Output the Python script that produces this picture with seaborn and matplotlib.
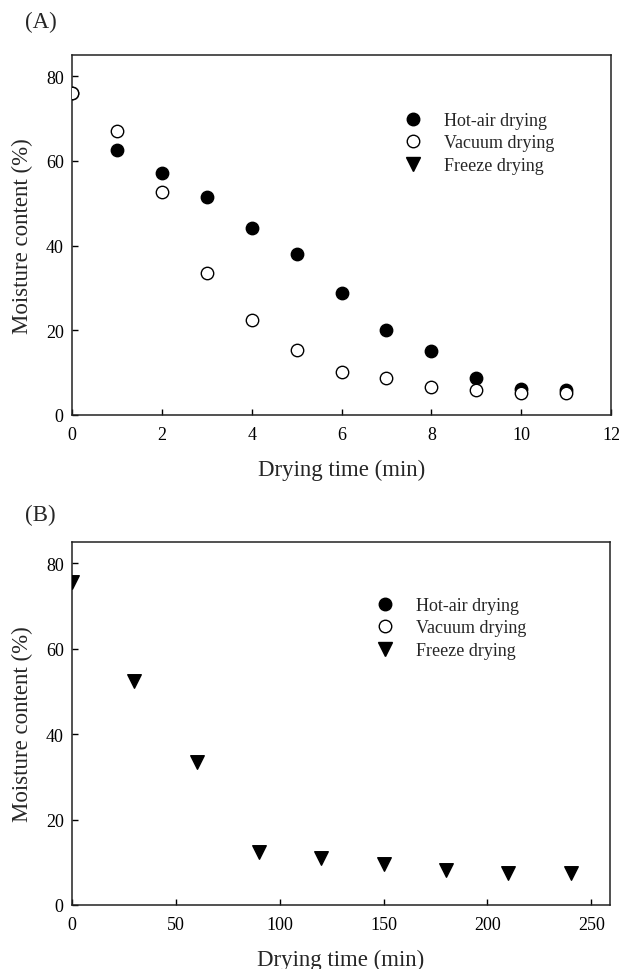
import matplotlib
matplotlib.use("Agg")
import matplotlib.pyplot as plt
from matplotlib.lines import Line2D
import seaborn as sns
import pandas as pd

sns.set_theme(style="white")
plt.rcParams['font.family'] = ['Liberation Serif', 'DejaVu Serif']

# Panel A data (min)
time_a = [0, 1, 2, 3, 4, 5, 6, 7, 8, 9, 10, 11]
hot_air = [76.1, 62.5, 57.2, 51.5, 44.2, 38.0, 28.9, 20.0, 15.0, 8.7, 6.1, 6.0]
vacuum = [76.1, 67.0, 52.7, 33.5, 22.4, 15.3, 10.2, 8.7, 6.5, 5.9, 5.3, 5.3]

# Panel B data (min)
time_b = [0, 30, 60, 90, 120, 150, 180, 210, 240]
freeze = [75.6, 52.5, 33.6, 12.5, 11.1, 9.7, 8.2, 7.6, 7.6]

series_names = ["Hot-air drying", "Vacuum drying", "Freeze drying"]
xticks_a = [0, 2, 4, 6, 8, 10, 12]
xticks_b = [0, 50, 100, 150, 200, 250]
yticks = [0, 20, 40, 60, 80]

fig = plt.figure(figsize=(6.19, 9.70), dpi=100)
axA = fig.add_axes([72/619, 1-416/970, (611-72)/619, (416-56)/970])
axB = fig.add_axes([72/619, 1-906/970, (610-72)/619, (906-543)/970])

dfA = pd.DataFrame({"t": time_a, "hot": hot_air, "vac": vacuum})
dfB = pd.DataFrame({"t": time_b, "fr": freeze})

msize = 80
sns.scatterplot(data=dfA, x="t", y="hot", ax=axA, marker="o", color="black",
                edgecolor="black", s=msize, linewidth=1, zorder=3)
sns.scatterplot(data=dfA, x="t", y="vac", ax=axA, marker="o", color="white",
                edgecolor="black", s=msize, linewidth=1, zorder=4)
sns.scatterplot(data=dfB, x="t", y="fr", ax=axB, marker="v", color="black",
                edgecolor="black", s=95, linewidth=1, zorder=3)

def style(ax, xlim, xticks):
    ax.set_xlim(*xlim)
    ax.set_ylim(0, 85)
    ax.set_xticks(xticks)
    ax.set_yticks(yticks)
    ax.tick_params(direction="in", length=4, width=1, labelsize=13,
                   colors="black", bottom=True, left=True)
    ax.tick_params(axis="x", pad=8)
    ax.tick_params(axis="y", pad=6)
    for sp in ax.spines.values():
        sp.set_visible(True)
        sp.set_color("#222222")
        sp.set_linewidth(1.1)
    ax.set_xlabel("Drying time (min)", fontsize=16.5, labelpad=11)
    ax.set_ylabel("Moisture content (%)", fontsize=16.5, labelpad=9)
    ax.grid(False)

style(axA, (0, 12), xticks_a)
style(axB, (0, 259), xticks_b)

def legend(ax, anchor):
    handles = [
        Line2D([], [], marker="o", linestyle="", color="black", markerfacecolor="black", markersize=9),
        Line2D([], [], marker="o", linestyle="", color="black", markerfacecolor="white", markersize=9, markeredgewidth=1),
        Line2D([], [], marker="v", linestyle="", color="black", markerfacecolor="black", markersize=10),
    ]
    ax.legend(handles, series_names, loc="upper left", bbox_to_anchor=anchor,
              frameon=False, fontsize=13, handletextpad=1.2, labelspacing=0.3,
              borderpad=0, handlelength=1.0)

legend(axA, ((395-72)/539, (416-104)/360))
legend(axB, ((367-72)/538, (906-589)/363))

fig.text(25/619, 1-22/970, "(A)", fontsize=16.5, va="center", ha="left")
fig.text(25/619, 1-515/970, "(B)", fontsize=16.5, va="center", ha="left")

fig.savefig("out.png", dpi=100)
